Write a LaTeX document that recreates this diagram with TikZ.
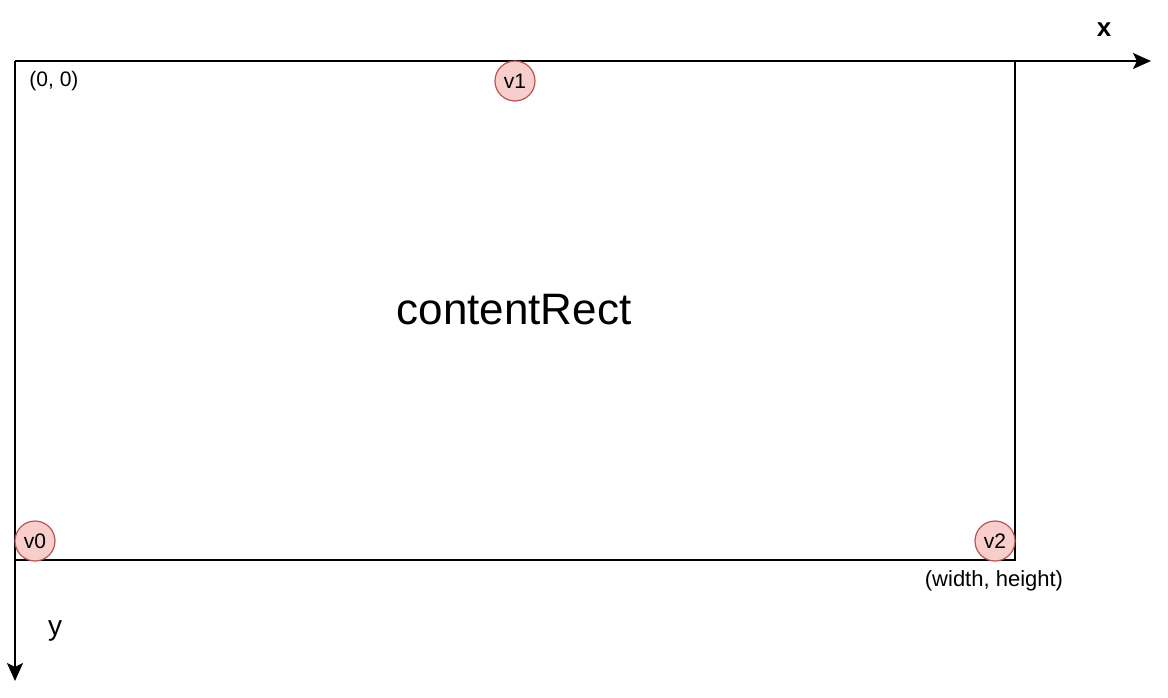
\documentclass[tikz,border=0pt]{standalone}
\usepackage{fontspec}
\setmainfont{Liberation Sans}
\usetikzlibrary{arrows.meta}
\definecolor{vfill}{HTML}{F8CECC}
\definecolor{vdraw}{HTML}{B85450}
\tikzset{
  vert/.style={circle, draw=vdraw, fill=vfill, line width=1.2pt, minimum size=40pt, inner sep=0pt, font=\fontsize{21}{24}\selectfont},
  lbl/.style={inner sep=0pt, font=\fontsize{21}{24}\selectfont},
  axis/.style={line width=2pt, -{Stealth[length=18pt,width=16pt,inset=4pt]}},
  edge/.style={line width=2pt},
}
\begin{document}
\begin{tikzpicture}[x=1pt,y=-1pt]
\useasboundingbox (0,0) rectangle (1168,698);
\coordinate (O) at (15,61);
\coordinate (TR) at (1015,61);
\coordinate (BR) at (1015,560);
\coordinate (BL) at (15,560);
\coordinate (XE) at (1151,61);
\coordinate (YE) at (15,681);
\draw[edge] (TR) -- (BR) -- (BL);
\draw[axis] (O) -- (XE);
\draw[axis] (O) -- (YE);
\node[lbl, font=\fontsize{44}{50}\selectfont] (title) at (514,310) {contentRect};
\node[vert] (v1) at (515,81) {v1};
\node[vert] (v0) at (35,541) {v0};
\node[vert] (v2) at (995,541) {v2};
\node[lbl] (orig) at (54,81) {(0, 0)};
\node[lbl, font=\fontsize{22}{26}\selectfont] (wh) at (994,581) {(width, height)};
\node[lbl, font=\fontsize{26}{30}\selectfont\bfseries] (xl) at (1104,30) {x};
\node[lbl, font=\fontsize{28}{32}\selectfont] (yl) at (55,631) {y};
\end{tikzpicture}
\end{document}
